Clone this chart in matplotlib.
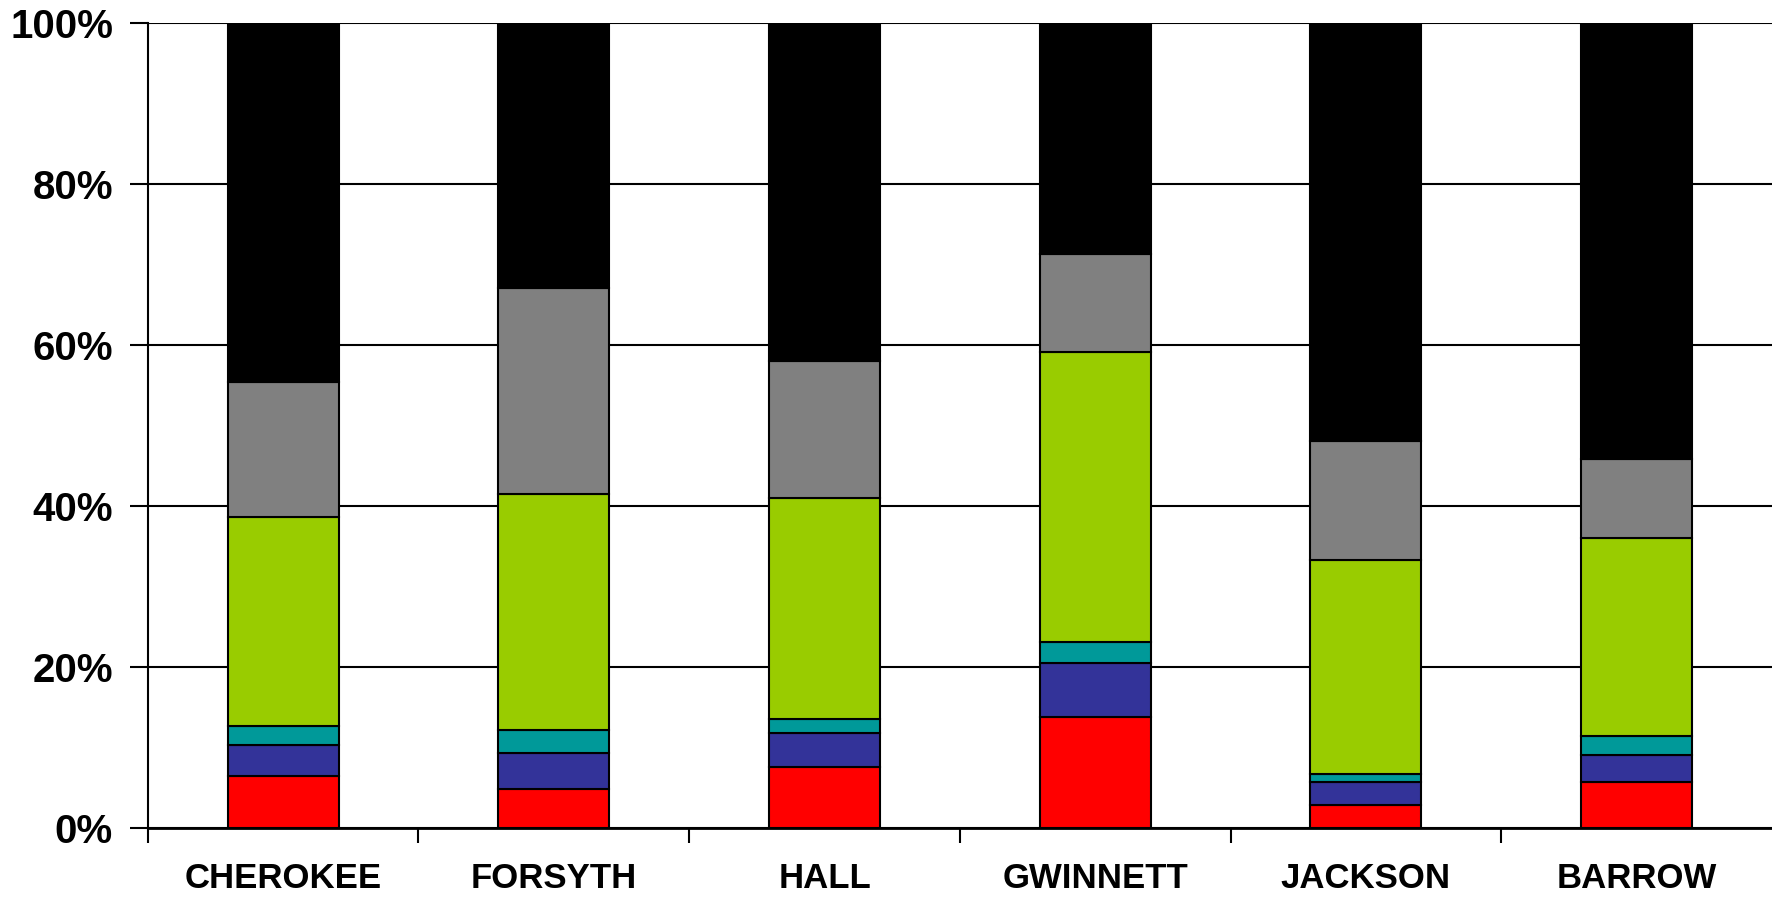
import numpy as np
import matplotlib
matplotlib.use("Agg")
from matplotlib import pyplot as plt
from matplotlib.ticker import FuncFormatter

plt.rcParams['font.family'] = ['Liberation Sans', 'DejaVu Sans']

counties = ['CHEROKEE', 'FORSYTH', 'HALL', 'GWINNETT', 'JACKSON', 'BARROW']

# cumulative tops of each segment (percent)
red_top = [6.5, 4.9, 7.6, 13.8, 2.9, 5.75]
blue_top = [10.4, 9.4, 11.9, 20.5, 5.8, 9.1]
teal_top = [12.7, 12.2, 13.6, 23.1, 6.8, 11.5]
green_top = [38.7, 41.5, 41.0, 59.2, 33.3, 36.1]
gray_top = [55.5, 67.1, 58.1, 71.3, 48.1, 45.9]
black_top = [100, 100, 100, 100, 100, 100]

tops = [red_top, blue_top, teal_top, green_top, gray_top, black_top]
colors = ['#FF0000', '#333399', '#009999', '#99CC00', '#808080', '#000000']

fig = plt.figure(figsize=(17.72, 8.98), dpi=100)
ax = fig.add_axes([0.0834, 0.0776, 0.9166, 0.8964])

x = np.arange(len(counties))
bottom = np.zeros(len(counties))
for top, c in zip(tops, colors):
    h = np.array(top) / 100.0 - bottom
    ax.bar(x, h, bottom=bottom, width=0.41, color=c, edgecolor='black',
           linewidth=1.5, zorder=3)
    bottom = np.array(top) / 100.0

ax.set_xlim(-0.5, len(counties) - 0.5)
ax.set_ylim(0, 1)
ax.set_yticks(np.arange(0, 1.01, 0.2))
ax.yaxis.set_major_formatter(FuncFormatter(lambda v, p: '%d%%' % round(v * 100)))
ax.grid(axis='y', color='black', linewidth=1.5, zorder=0)

ax.set_xticks(x)
ax.set_xticklabels(counties, fontsize=25, fontweight='bold')
ax.set_xticks(np.arange(len(counties)) - 0.5, minor=True)
ax.tick_params(axis='x', which='major', length=0, pad=24)
ax.tick_params(axis='x', which='minor', length=11, width=1.5, direction='out')
ax.tick_params(axis='y', length=13, width=1.5, pad=12, labelsize=29)
for lab in ax.get_yticklabels():
    lab.set_fontweight('bold')

for s in ['top', 'right']:
    ax.spines[s].set_visible(False)
ax.spines['left'].set_linewidth(1.5)
ax.spines['bottom'].set_linewidth(2)

fig.savefig('out.png', dpi=100)
